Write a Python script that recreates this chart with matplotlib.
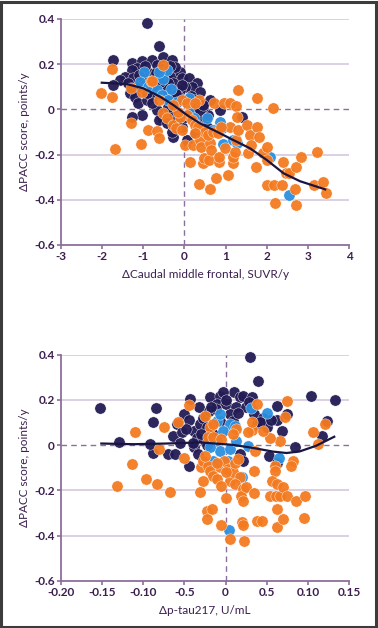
import numpy as np
import matplotlib
matplotlib.use("Agg")
import matplotlib.pyplot as plt
from matplotlib.patches import Rectangle

# ---- top panel: dPACC vs dCaudal middle frontal SUVR/y ----
top_navy_x = [-0.92, -0.62, -1.73, -1.28, -1.04, -0.79, -0.51, -0.31, -0.67, -1.16, -1.28, -1.44, -1.56,
              -1.73, -1.24, -1.36, -1.16, -1.32, -1.20, -1.12, -1.04, -1.28, -0.92, -0.79, -0.92, -0.75,
              -0.67, -0.43, -0.27, -0.11, -0.23, -0.06, 0.12, 0.30, 0.18, 0.02, -0.11, -0.27, -0.39,
              -0.67, -0.55, -0.63, -0.43, -0.27, -0.31, -0.06, 0.06, 0.26, 0.38, 0.58, 0.62, 0.46, 0.87,
              1.39, 0.38, -0.35, -0.27, -0.19, 0.02, 0.22, 0.38, 0.54, -0.85, -0.55, -0.15, -1.0, -0.45,
              -0.70, -0.35, -0.05, 0.15, -0.20, -0.60, -0.95, -1.10, 0.25, 0.45, -0.40, -0.80]
top_navy_y = [0.383, 0.282, 0.218, 0.204, 0.214, 0.218, 0.233, 0.218, 0.196, 0.181, 0.174, 0.145, 0.130,
              0.108, 0.137, 0.115, 0.100, 0.071, 0.056, 0.027, -0.025, -0.032, 0.041, 0.056, 0.071, 0.108,
              0.137, 0.145, 0.152, 0.167, 0.189, 0.137, 0.137, 0.115, 0.100, 0.100, 0.086, 0.115, 0.115,
              -0.003, -0.040, -0.047, -0.062, -0.121, -0.099, -0.077, -0.136, -0.106, -0.047, -0.025,
              0.041, 0.012, -0.003, -0.032, 0.078, 0.056, -0.018, -0.047, -0.032, -0.003, -0.003, -0.077,
              0.160, 0.180, 0.060, 0.140, 0.090, 0.160, 0.190, 0.110, 0.060, 0.070, 0.120, 0.190, 0.150,
              0.040, 0.020, 0.010, 0.030]

top_blue_x = [-0.98, -1.09, -0.88, -0.67, -0.51, -0.33, -0.43, -0.63, -0.55, -0.39, -0.19, 0.10, 0.10,
              0.22, 0.30, 0.54, 0.87, 0.91, 0.93, 1.19, 1.27, 2.08, 2.53, 0.70]
top_blue_y = [0.167, 0.122, 0.100, 0.086, 0.134, 0.088, 0.174, 0.167, 0.063, 0.041, 0.034, 0.049, -0.018,
              -0.040, -0.069, -0.040, -0.055, -0.084, -0.153, -0.136, -0.150, -0.209, -0.379, -0.091]

top_orange_x = [-2.03, -1.77, -1.77, -1.70, -1.30, -1.06, -0.89, -0.67, -0.63, -0.81, -0.53, -1.30, -1.02,
                -0.61, -0.51, -0.43, -0.27, -0.21, -0.06, 0.02, 0.14, 0.20, 0.35, 0.38, 0.41, 0.35, 0.46,
                0.48, 0.60, 0.61, 0.64, 0.62, 0.71, 0.77, 0.83, 0.83, 0.95, 0.99, 1.07, 1.11, 1.11, 1.19,
                1.19, 1.23, 1.26, 1.26, 1.30, 1.27, 1.30, 1.52, 1.55, 1.60, 1.61, 1.74, 1.76, 1.77, 1.82,
                1.90, 2.00, 2.00, 2.00, 2.16, 2.18, 2.21, 2.37, 2.39, 2.46, 2.53, 2.69, 2.71, 2.71, 2.83,
                3.16, 3.21, 3.37, 3.44, -0.78, 0.06, -0.10, -0.15, 0.18, 0.26, 0.34, 0.50, 0.58, 0.70,
                0.82, 0.90, 0.26, -0.06, -0.27, 0.06, 0.26]
top_orange_y = [0.074, 0.177, 0.056, -0.175, -0.059, -0.153, -0.091, -0.096, -0.128, 0.125, 0.196, 0.093,
                0.078, 0.041, -0.018, -0.040, -0.069, -0.084, -0.091, -0.158, -0.232, -0.158, 0.041,
                -0.136, -0.165, -0.332, -0.239, -0.217, -0.224, -0.150, -0.180, -0.354, 0.027, -0.305,
                -0.232, -0.209, 0.027, -0.173, -0.291, 0.027, -0.077, -0.239, -0.209, -0.187, -0.136,
                0.015, 0.086, -0.032, -0.091, -0.069, -0.195, -0.114, -0.158, -0.254, -0.077, 0.049,
                -0.121, -0.195, -0.165, -0.224, -0.335, 0.004, -0.335, -0.416, -0.335, -0.232, -0.280,
                -0.283, -0.354, -0.254, -0.423, -0.212, -0.335, -0.187, -0.320, -0.372, 0.127, -0.025,
                -0.032, -0.010, -0.047, -0.069, -0.077, -0.099, -0.113, -0.099, -0.106, -0.077, -0.106,
                0.040, 0.020, 0.027, 0.027]

top_fit_x = [-2.01, -1.40, -1.00, -0.59, -0.27, 0.06, 0.38, 0.79, 1.19, 1.60, 2.00, 2.41, 2.81, 3.42]
top_fit_y = [0.118, 0.112, 0.093, 0.056, 0.019, -0.025, -0.062, -0.099, -0.136, -0.173, -0.224, -0.283,
             -0.318, -0.354]

# ---- bottom panel: dPACC vs dp-tau217 ----
bot_navy_x = [-0.153, -0.129, -0.085, -0.088, -0.088, -0.092, -0.043, -0.032, -0.051, -0.059, -0.064,
              -0.070, -0.062, -0.045, -0.053, -0.039, -0.031, -0.027, -0.039, -0.033, -0.025, -0.019,
              -0.007, -0.011, 0.001, 0.010, 0.017, 0.021, 0.013, 0.005, 0.030, 0.039, 0.032, 0.025,
              0.034, 0.038, 0.046, 0.050, 0.063, 0.063, 0.068, 0.053, 0.063, 0.084, 0.104, 0.133, 0.123,
              0.117, 0.075, 0.009, -0.007, -0.023, -0.015, 0.017, 0.021, -0.003, -0.045, -0.035, -0.020,
              -0.048, -0.040, -0.030, -0.022, -0.055, -0.012, 0.015, 0.028, 0.042, 0.055, -0.018, 0.000]
bot_navy_y = [0.164, 0.012, 0.162, 0.100, -0.037, 0.004, 0.204, 0.170, 0.137, 0.093, 0.041, -0.040,
              -0.040, -0.091, 0.056, 0.063, 0.093, 0.122, -0.010, -0.040, 0.019, 0.211, 0.218, 0.181,
              0.181, 0.233, 0.211, 0.218, 0.167, 0.137, 0.388, 0.282, 0.215, 0.167, 0.137, 0.093, 0.122,
              0.078, 0.174, 0.111, 0.063, -0.047, -0.077, -0.010, 0.218, 0.199, 0.105, 0.041, 0.137,
              0.108, 0.108, 0.078, 0.049, -0.040, -0.069, 0.233, 0.110, 0.030, 0.150, 0.070, 0.010,
              0.050, 0.000, 0.010, 0.160, 0.140, 0.190, 0.100, 0.110, 0.170, 0.200]

bot_blue_x = [-0.011, -0.007, 0.005, 0.011, -0.003, -0.011, -0.007, 0.005, 0.013, 0.027, 0.031, 0.050,
              0.065, 0.020, 0.004, -0.019, -0.015, 0.003]
bot_blue_y = [0.108, 0.137, 0.093, 0.086, 0.063, 0.019, -0.025, -0.018, 0.019, -0.003, 0.164, 0.140,
              -0.055, -0.139, -0.376, -0.010, -0.069, -0.069]

bot_orange_x = [-0.110, -0.114, -0.132, -0.097, -0.083, -0.067, -0.075, -0.081, -0.045, -0.058, -0.051,
                -0.030, -0.031, -0.025, -0.019, -0.027, -0.023, -0.017, -0.022, -0.021, -0.015, -0.005,
                -0.027, -0.021, -0.019, -0.015, -0.011, -0.005, -0.007, -0.002, 0.003, 0.005, 0.001,
                0.005, 0.009, 0.017, 0.011, 0.021, 0.019, 0.025, 0.021, 0.020, 0.021, 0.022, 0.032,
                0.027, 0.034, 0.035, 0.038, 0.044, 0.054, 0.060, 0.060, 0.056, 0.061, 0.062, 0.063,
                0.063, 0.066, 0.070, 0.070, 0.074, 0.072, 0.075, 0.082, 0.080, 0.086, 0.096, 0.095,
                0.106, 0.121, 0.112, 0.066, 0.054, 0.046, 0.032, 0.013, 0.009, 0.038, 0.036, -0.015,
                -0.025, -0.010, 0.000, 0.012, -0.005, 0.015]
bot_orange_y = [0.056, -0.084, -0.180, -0.150, -0.173, -0.209, 0.078, -0.018, 0.178, 0.100, -0.058,
                -0.099, -0.209, 0.130, 0.078, -0.158, -0.291, -0.283, -0.327, 0.034, 0.034, 0.027,
                -0.069, -0.091, -0.114, -0.136, -0.150, -0.352, -0.099, -0.069, -0.106, -0.158, -0.236,
                -0.416, -0.121, -0.143, -0.173, -0.195, -0.224, -0.187, -0.246, -0.342, -0.352, -0.423,
                0.066, 0.056, -0.114, -0.214, -0.335, -0.335, -0.224, -0.091, -0.114, -0.158, -0.224,
                -0.173, -0.283, -0.364, -0.224, -0.187, -0.327, -0.224, 0.125, 0.193, -0.069, -0.091,
                -0.246, -0.224, -0.323, 0.056, 0.093, 0.004, 0.019, 0.031, 0.063, 0.100, 0.071, 0.049,
                0.181, -0.028, 0.093, -0.050, -0.080, -0.120, -0.080, -0.180, -0.060]

bot_fit_x = [-0.151, -0.112, -0.072, -0.031, 0.009, 0.034, 0.058, 0.074, 0.090, 0.110, 0.132]
bot_fit_y = [0.007, 0.004, 0.007, 0.012, 0.001, -0.013, -0.029, -0.035, -0.028, -0.003, 0.037]

top_xticks = [-3, -2, -1, 0, 1, 2, 3, 4]
top_xlabels = ["-3", "-2", "-1", "0", "1", "2", "3", "4"]
bot_xticks = [-0.20, -0.15, -0.10, -0.05, 0, 0.05, 0.10, 0.15]
bot_xlabels = ["-0.20", "-0.15", "-0.10", "-0.5", "0", "0.5", "0.10", "0.15"]
yticks = [-0.6, -0.4, -0.2, 0, 0.2, 0.4]
ylabels = ["-0.6", "-0.4", "-0.2", "0", "0.2", "0.4"]

NAVY, BLUE, ORANGE = "#221b55", "#2b8fe0", "#f47a20"
TXT = "#3b1f4e"
SPINE = "#8c6f9c"
GRID = "#d6c8de"

plt.rcParams["font.family"] = ["Lato", "DejaVu Sans"]

fig = plt.figure(figsize=(3.78, 6.28), dpi=100)
fig.patches.append(Rectangle((0.002, 0.002), 0.994, 0.995, transform=fig.transFigure,
                             fill=False, edgecolor="#3c3c3c", linewidth=2.2))


def panel(rect, navy, blue, orange, fit, xlim, xticks, xlabels, xlabel):
    ax = fig.add_axes(rect)
    ax.set_xlim(*xlim)
    ax.set_ylim(-0.6, 0.4)
    for y in [-0.4, -0.2, 0.2, 0.4]:
        ax.axhline(y, color=GRID, lw=1.2, zorder=0)
    ax.axhline(0, color=SPINE, lw=1.0, ls=(0, (4, 3)), zorder=0.5)
    ax.axvline(0, color=SPINE, lw=1.0, ls=(0, (4, 3)), zorder=0.5)
    for (xs, ys), c in zip([navy, blue, orange], [NAVY, BLUE, ORANGE]):
        ax.scatter(xs, ys, s=66, color=c, edgecolor="white", linewidth=0.3,
                   alpha=0.95, zorder=2, clip_on=False)
    ax.plot(fit[0], fit[1], color="#1a1440", lw=1.6, zorder=3)
    for s in ["top", "right"]:
        ax.spines[s].set_visible(False)
    for s in ["left", "bottom"]:
        ax.spines[s].set_color(SPINE)
        ax.spines[s].set_linewidth(1.3)
    ax.set_xticks(xticks)
    ax.set_xticklabels(xlabels)
    ax.set_yticks(yticks)
    ax.set_yticklabels(ylabels)
    ax.tick_params(colors=SPINE, labelcolor=TXT, length=3, width=1.2, labelsize=8.5, pad=1.5)
    for t in ax.get_xticklabels() + ax.get_yticklabels():
        t.set_fontweight("bold")
    ax.set_xlabel(xlabel, color=TXT, fontsize=8.5, labelpad=5)
    ax.set_ylabel("ΔPACC score, points/y", color=TXT, fontsize=8.5, labelpad=3)
    return ax


panel([0.1614, 0.6099, 0.762, 0.3599], (top_navy_x, top_navy_y), (top_blue_x, top_blue_y),
      (top_orange_x, top_orange_y), (top_fit_x, top_fit_y), (-3, 4), top_xticks, top_xlabels,
      "ΔCaudal middle frontal, SUVR/y")
panel([0.1614, 0.0753, 0.762, 0.3599], (bot_navy_x, bot_navy_y), (bot_blue_x, bot_blue_y),
      (bot_orange_x, bot_orange_y), (bot_fit_x, bot_fit_y), (-0.20, 0.15), bot_xticks, bot_xlabels,
      "Δp-tau217, U/mL")

fig.savefig("out.png", dpi=100)
